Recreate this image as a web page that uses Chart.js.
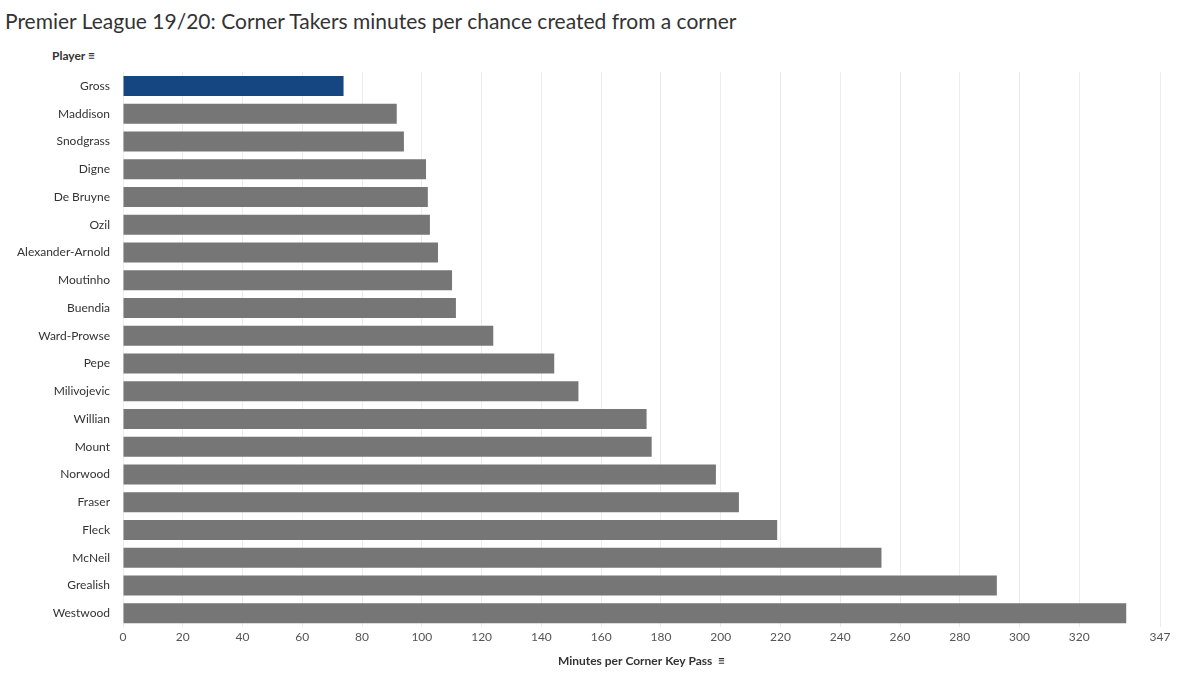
<!DOCTYPE html>
<html>
<head>
<meta charset="utf-8">
<script src="https://cdn.jsdelivr.net/npm/chart.js@4"></script>
<style>
  body { margin: 0; background: #fff; font-family: Lato, "Open Sans", sans-serif; }
  #title { position: absolute; left: 5px; top: 8px; font-size: 21px; color: #333; }
  #player { position: absolute; left: 52px; top: 48px; font-size: 12px; font-weight: bold; color: #333; }
  #wrap { position: absolute; left: 0; top: 60px; width: 1186px; height: 616px; }
</style>
</head>
<body>
<div id="title">Premier League 19/20: Corner Takers minutes per chance created from a corner</div>
<div id="player">Player &#8801;</div>
<div id="wrap"><canvas id="chart"></canvas></div>
<script>
// data
const players = ['Gross', 'Maddison', 'Snodgrass', 'Digne', 'De Bruyne', 'Ozil', 'Alexander-Arnold',
  'Moutinho', 'Buendia', 'Ward-Prowse', 'Pepe', 'Milivojevic', 'Willian', 'Mount', 'Norwood',
  'Fraser', 'Fleck', 'McNeil', 'Grealish', 'Westwood'];
const minutesPerKeyPass = [73.8, 91.6, 94.0, 101.4, 102.0, 102.7, 105.4, 110.1, 111.4, 123.9,
  144.3, 152.4, 175.2, 176.9, 198.4, 206.1, 218.9, 253.8, 292.4, 335.7];
const highlight = 'Gross';

const colors = players.map(p => p === highlight ? '#154682' : '#767676');

new Chart(document.getElementById('chart'), {
  type: 'bar',
  data: {
    labels: players,
    datasets: [{
      data: minutesPerKeyPass,
      backgroundColor: colors,
      categoryPercentage: 0.72,
      barPercentage: 1
    }]
  },
  options: {
    indexAxis: 'y',
    responsive: true,
    maintainAspectRatio: false,
    animation: false,
    layout: { padding: { top: 4, right: 26, bottom: 4, left: 0 } },
    plugins: { legend: { display: false }, tooltip: { enabled: false } },
    scales: {
      x: {
        min: 0,
        max: 347,
        ticks: { stepSize: 20, color: '#555', font: { family: 'Lato', size: 12 } },
        grid: { color: '#ececec', drawTicks: false },
        border: { display: false },
        title: {
          display: true,
          text: 'Minutes per Corner Key Pass  \u2261',
          color: '#333',
          font: { family: 'Lato', size: 12, weight: 'bold' },
          padding: { top: 6 }
        }
      },
      y: {
        afterFit: axis => { axis.width = 123; },
        ticks: { color: '#333', font: { family: 'Lato', size: 12 }, padding: 5 },
        grid: { display: false },
        border: { display: false }
      }
    }
  }
});
</script>
</body>
</html>
